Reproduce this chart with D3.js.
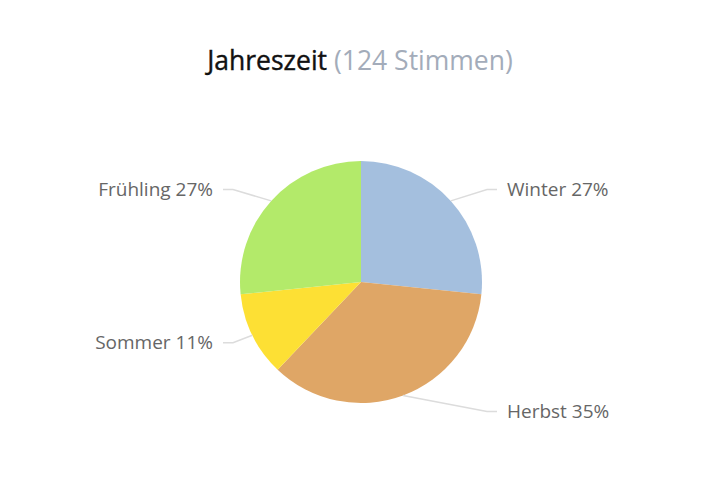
<!DOCTYPE html>
<html lang="de">
<head>
    <meta charset="UTF-8">
    <title>Jahreszeit</title>
    <script src="https://cdn.jsdelivr.net/npm/d3@7"></script>
    <style>
        body { margin: 0; background: #fff; }
        text { font-family: "Open Sans", sans-serif; }
    </style>
</head>
<body>
<script>
    // Daten
    var categories = ['Winter', 'Herbst', 'Sommer', 'Frühling'];
    var votes = [33, 44, 14, 33];
    var percentLabels = ['27%', '35%', '11%', '27%'];
    var colors = ['#a4bfde', '#dfa666', '#fde034', '#b3ea6a'];

    var width = 720, height = 490;
    var cx = 361, cy = 282, r = 121;

    var svg = d3.select('body').append('svg')
        .attr('width', width)
        .attr('height', height);

    // Titel
    var title = svg.append('text')
        .attr('x', width / 2)
        .attr('y', 70)
        .attr('text-anchor', 'middle')
        .style('font-size', '26.5px');
    title.append('tspan').attr('fill', '#111').attr('stroke', '#111').attr('stroke-width', 0.4).text('Jahreszeit');
    title.append('tspan').attr('fill', '#a3acba').text(' (124 Stimmen)');

    var data = categories.map(function(c, i) {
        return { name: c, value: votes[i], label: percentLabels[i], color: colors[i] };
    });

    var pie = d3.pie().sort(null).value(function(d) { return d.value; });
    var arcs = pie(data);
    var arc = d3.arc().innerRadius(0).outerRadius(r);

    var g = svg.append('g').attr('transform', 'translate(' + cx + ',' + cy + ')');

    g.selectAll('path.slice')
        .data(arcs)
        .enter()
        .append('path')
        .attr('class', 'slice')
        .attr('d', arc)
        .attr('fill', function(d) { return d.data.color; });

    // Beschriftungen mit Verbindungslinien
    var labelDist = r + 17;
    var textOffset = 146;
    arcs.forEach(function(d) {
        var mid = (d.startAngle + d.endAngle) / 2;
        var right = Math.sin(mid) >= 0;
        var ex = r * Math.sin(mid), ey = -r * Math.cos(mid);
        var ly = -labelDist * Math.cos(mid);
        var side = right ? 1 : -1;
        var tx = side * (textOffset + (right ? 0 : 2));
        var p2x = tx - side * 20, p3x = tx - side * 10;

        g.append('path')
            .attr('d', 'M' + ex + ',' + ey + 'L' + p2x + ',' + ly + 'L' + p3x + ',' + ly)
            .attr('fill', 'none')
            .attr('stroke', '#dcdcdc')
            .attr('stroke-width', 1.5);

        g.append('text')
            .attr('x', tx)
            .attr('y', ly)
            .attr('dy', '0.35em')
            .attr('text-anchor', right ? 'start' : 'end')
            .attr('fill', '#666')
            .style('font-size', '19px')
            .text(d.data.name + ' ' + d.data.label);
    });
</script>
</body>
</html>
